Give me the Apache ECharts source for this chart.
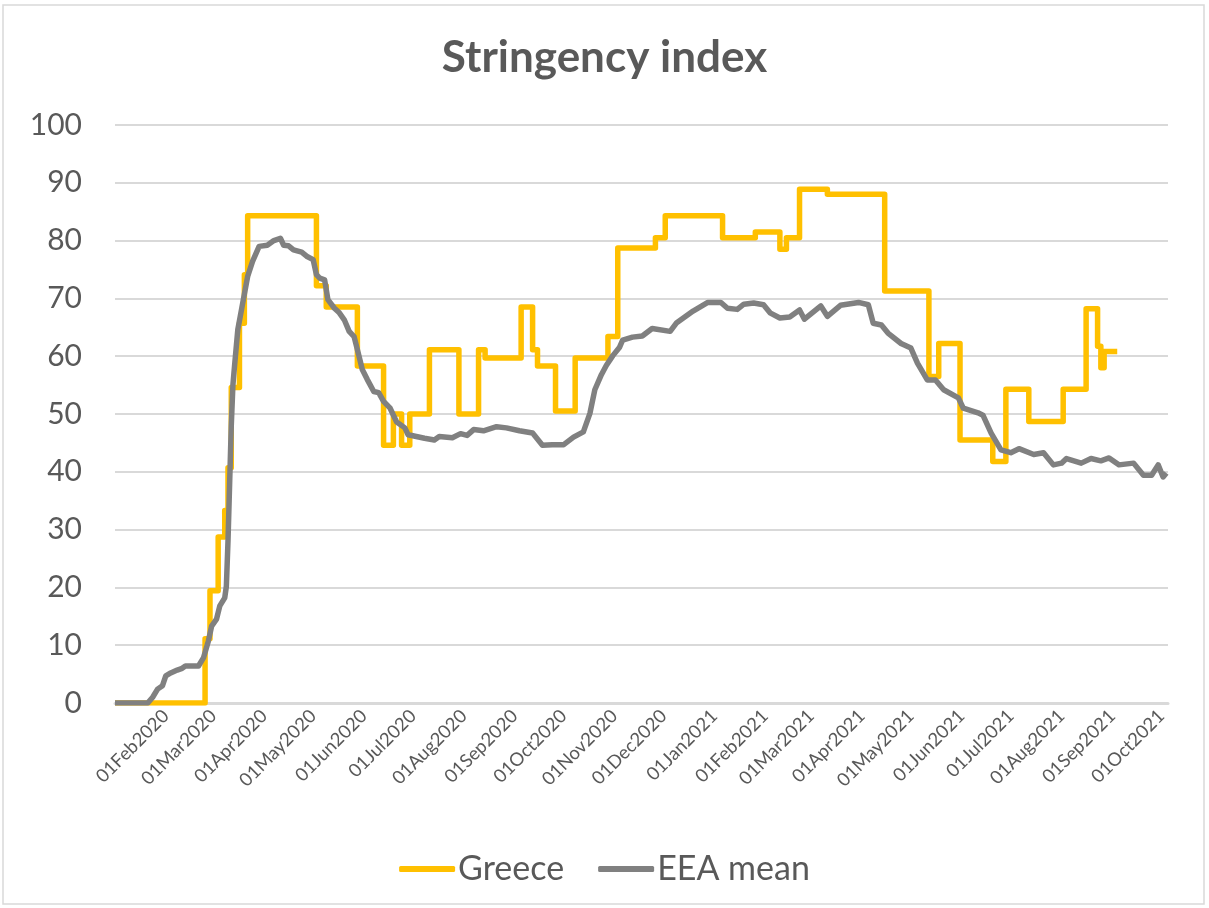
<!DOCTYPE html>
<html>
<head>
<meta charset="utf-8">
<script src="https://cdn.jsdelivr.net/npm/echarts@6/dist/echarts.min.js"></script>
<style>
html,body{margin:0;padding:0;background:#fff;}
#chart{width:1209px;height:908px;}
</style>
</head>
<body>
<div id="chart"></div>
<script>
const tickLabels = ['01Feb2020','01Mar2020','01Apr2020','01May2020','01Jun2020','01Jul2020','01Aug2020','01Sep2020','01Oct2020','01Nov2020','01Dec2020','01Jan2021','01Feb2021','01Mar2021','01Apr2021','01May2021','01Jun2021','01Jul2021','01Aug2021','01Sep2021','01Oct2021'];

// Greece: value changes (held until next date)
const greeceDates = ['2020-01-01','2020-02-25','2020-02-28','2020-03-04','2020-03-08','2020-03-10','2020-03-12','2020-03-17','2020-03-20','2020-03-22','2020-05-03','2020-05-09','2020-05-28','2020-06-13','2020-06-19','2020-06-24','2020-06-29','2020-07-11','2020-07-29','2020-08-10','2020-08-14','2020-09-05','2020-09-12','2020-09-15','2020-09-26','2020-10-08','2020-10-28','2020-11-03','2020-11-26','2020-12-02','2021-01-06','2021-01-26','2021-02-10','2021-02-14','2021-02-22','2021-03-11','2021-04-15','2021-05-12','2021-05-18','2021-05-31','2021-06-20','2021-06-28','2021-07-12','2021-08-02','2021-08-16','2021-08-23','2021-08-25','2021-08-27','2021-09-04'];
const greeceValues = [0,11.1,19.4,28.7,33.3,40.7,54.6,65.7,74.1,84.3,72.2,68.5,58.3,44.6,50,44.6,50,61.1,50,61.1,59.7,68.5,61.1,58.3,50.5,59.7,63.4,78.7,80.5,84.3,80.5,81.5,78.5,80.5,88.9,88.0,71.3,56.5,62.2,45.5,41.8,54.3,48.7,54.3,68.2,61.7,58.0,60.8,60.8];

// EEA mean
const eeaDates = ['2020-01-01','2020-01-21','2020-01-24','2020-01-27','2020-01-30','2020-02-01','2020-02-04','2020-02-08','2020-02-11','2020-02-13','2020-02-21','2020-02-24','2020-02-27','2020-02-29','2020-03-03','2020-03-05','2020-03-08','2020-03-09','2020-03-10','2020-03-11','2020-03-12','2020-03-13','2020-03-14','2020-03-16','2020-03-19','2020-03-22','2020-03-25','2020-03-29','2020-04-03','2020-04-07','2020-04-11','2020-04-13','2020-04-16','2020-04-19','2020-04-24','2020-04-27','2020-05-01','2020-05-03','2020-05-05','2020-05-08','2020-05-10','2020-05-14','2020-05-17','2020-05-20','2020-05-23','2020-05-26','2020-05-29','2020-05-31','2020-06-03','2020-06-07','2020-06-10','2020-06-13','2020-06-17','2020-06-21','2020-06-26','2020-06-28','2020-07-08','2020-07-14','2020-07-17','2020-07-25','2020-07-30','2020-08-03','2020-08-07','2020-08-13','2020-08-21','2020-08-27','2020-09-04','2020-09-12','2020-09-18','2020-09-24','2020-10-01','2020-10-07','2020-10-13','2020-10-17','2020-10-20','2020-10-24','2020-10-27','2020-10-31','2020-11-04','2020-11-06','2020-11-12','2020-11-18','2020-11-24','2020-12-05','2020-12-09','2020-12-19','2020-12-28','2021-01-05','2021-01-09','2021-01-15','2021-01-19','2021-01-25','2021-01-31','2021-02-04','2021-02-10','2021-02-16','2021-02-22','2021-02-25','2021-03-07','2021-03-11','2021-03-19','2021-03-30','2021-04-05','2021-04-08','2021-04-13','2021-04-17','2021-04-25','2021-05-01','2021-05-05','2021-05-11','2021-05-16','2021-05-21','2021-05-30','2021-06-02','2021-06-11','2021-06-14','2021-06-19','2021-06-25','2021-07-01','2021-07-06','2021-07-15','2021-07-21','2021-07-27','2021-08-01','2021-08-04','2021-08-13','2021-08-19','2021-08-25','2021-08-30','2021-09-05','2021-09-14','2021-09-20','2021-09-25','2021-09-29','2021-10-02','2021-10-04'];
const eeaValues = [0,0,1.0,2.4,3.0,4.7,5.2,5.7,6.0,6.4,6.4,7.8,10.7,13.3,14.5,16.8,18.2,20.2,28,38,48,55,58.3,64.6,69.2,73.8,76.4,79.0,79.2,80.0,80.4,79.2,79.1,78.4,78.0,77.3,76.7,74.1,73.5,73.2,69.8,68.3,67.5,66.3,64.3,63.4,60.0,57.7,56.0,53.9,53.7,52.2,51.0,48.6,47.6,46.4,45.8,45.5,46.1,45.9,46.6,46.3,47.3,47.1,47.8,47.6,47.1,46.7,44.6,44.7,44.7,46.0,46.9,50.1,54.2,56.8,58.4,60.1,61.5,62.8,63.3,63.5,64.8,64.3,65.8,67.8,69.3,69.3,68.3,68.1,69.0,69.2,68.9,67.5,66.6,66.8,68.0,66.4,68.7,66.9,68.8,69.3,68.9,65.7,65.4,64.0,62.2,61.4,58.8,55.9,55.9,54.2,52.8,51.0,50.2,49.8,46.7,43.8,43.3,44.0,43.0,43.3,41.2,41.5,42.3,41.5,42.3,41.9,42.4,41.2,41.5,39.4,39.4,41.2,39.1,39.8];

const monthAbbr = ['Jan','Feb','Mar','Apr','May','Jun','Jul','Aug','Sep','Oct','Nov','Dec'];
function parseISO(s){
  const p = s.split('-').map(Number);
  return Date.UTC(p[0], p[1]-1, p[2]);
}
function parseTick(s){
  const d = parseInt(s.slice(0,2),10);
  const m = monthAbbr.indexOf(s.slice(2,5));
  const y = parseInt(s.slice(5),10);
  return Date.UTC(y, m, d);
}
const tickValues = tickLabels.map(parseTick);
const zip = (a,b) => a.map((d,i)=>[parseISO(d),b[i]]);

const chart = echarts.init(document.getElementById('chart'));
const FONT = 'Lato';
chart.setOption({
  animation:false,
  backgroundColor:'#ffffff',
  textStyle:{fontFamily:FONT},
  title:{
    text:'Stringency index',
    left:'center', top:31,
    textStyle:{fontFamily:FONT,fontSize:44,fontWeight:'bold',color:'#595959'}
  },
  graphic:[{
    type:'rect', silent:true, z:-1,
    shape:{x:3,y:5,width:1201,height:899},
    style:{fill:'none',stroke:'#d9d9d9',lineWidth:1.5}
  }],
  grid:{left:115,right:41,top:125,bottom:205,containLabel:false},
  legend:{
    bottom:17, left:'center',
    itemWidth:56, itemHeight:6, itemGap:34,
    textStyle:{fontFamily:FONT,fontSize:34,color:'#595959',padding:[0,0,0,-2]},
    data:[{name:'Greece',icon:'roundRect'},{name:'EEA mean',icon:'roundRect'}]
  },
  xAxis:{
    type:'value',
    min:parseISO('2020-01-01'), max:parseISO('2021-10-05'),
    axisLine:{show:true,lineStyle:{color:'#d9d9d9',width:3}},
    axisTick:{show:false, customValues:tickValues},
    splitLine:{show:false},
    axisLabel:{
      customValues:tickValues,
      rotate:45, margin:10,
      fontFamily:FONT, fontSize:18.5, color:'#595959',
      formatter:function(v){
        const i = tickValues.indexOf(v);
        return i>=0 ? tickLabels[i] : '';
      }
    }
  },
  yAxis:{
    type:'value', min:0, max:100, interval:10,
    axisLine:{show:false}, axisTick:{show:false},
    splitLine:{lineStyle:{color:'#d9d9d9',width:2}},
    axisLabel:{fontFamily:FONT,fontSize:30,color:'#595959',margin:33}
  },
  series:[
    {name:'Greece',type:'line',step:'end',symbol:'none',
     data:zip(greeceDates,greeceValues),
     lineStyle:{color:'#ffc000',width:5.5,join:'round'},itemStyle:{color:'#ffc000'}},
    {name:'EEA mean',type:'line',symbol:'none',
     data:zip(eeaDates,eeaValues),
     lineStyle:{color:'#808080',width:5.5,join:'round'},itemStyle:{color:'#808080'}}
  ]
});
</script>
</body>
</html>
